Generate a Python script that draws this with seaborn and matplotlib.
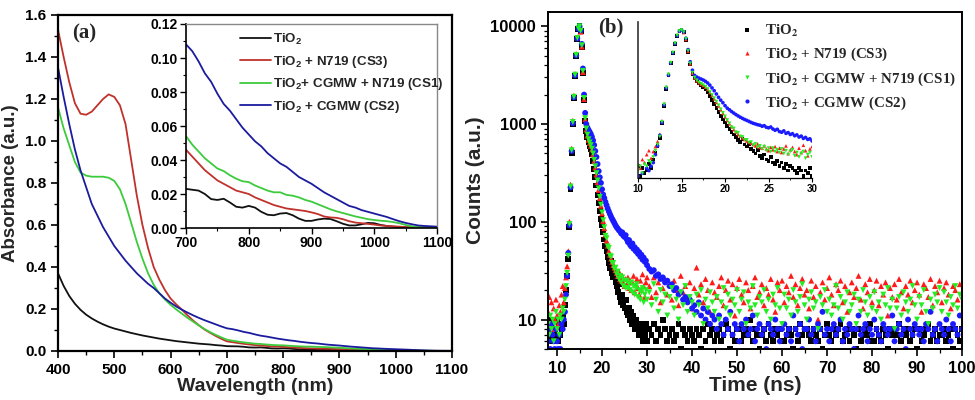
import numpy as np
import pandas as pd
import matplotlib
matplotlib.use('Agg')
import matplotlib.pyplot as plt
import seaborn as sns
from matplotlib.ticker import MultipleLocator, LogLocator, FuncFormatter, NullFormatter, NullLocator
from matplotlib.font_manager import FontProperties

# ---------------- data: (a) UV-vis absorbance, 400-1100 nm every 10 nm ----------------
wavelength = np.arange(400, 1101, 10)

abs_tio2 = [0.370, 0.310, 0.262, 0.225, 0.196, 0.173, 0.155, 0.140, 0.127, 0.116,
            0.107, 0.100, 0.093, 0.086, 0.080, 0.074, 0.069, 0.064, 0.059, 0.055,
            0.051, 0.047, 0.044, 0.041, 0.038, 0.035, 0.033, 0.031, 0.028, 0.026,
            0.023, 0.0225, 0.022, 0.020, 0.017, 0.0165, 0.0172, 0.015, 0.0125, 0.012,
            0.013, 0.012, 0.0095, 0.0078, 0.0075, 0.0085, 0.0088, 0.0075, 0.0055, 0.0042,
            0.0042, 0.005, 0.0055, 0.0053, 0.004, 0.0025, 0.0015, 0.0015, 0.0022, 0.003,
            0.0028, 0.0018, 0.0012, 0.0008, 0.0005, 0.0004, 0.0003, 0.0002, 0.0002, 0.0001,
            0.0001]
abs_cs3 = [1.53, 1.40, 1.28, 1.18, 1.13, 1.125, 1.14, 1.17, 1.20, 1.222,
           1.21, 1.17, 1.08, 0.91, 0.74, 0.60, 0.49, 0.40, 0.34, 0.29,
           0.25, 0.222, 0.197, 0.17, 0.145, 0.123, 0.103, 0.087, 0.072, 0.058,
           0.046, 0.042, 0.038, 0.034, 0.031, 0.028, 0.026, 0.024, 0.022, 0.021,
           0.020, 0.018, 0.0165, 0.015, 0.0135, 0.0125, 0.0115, 0.011, 0.0105, 0.010,
           0.0092, 0.0082, 0.0068, 0.0062, 0.006, 0.0052, 0.004, 0.0032, 0.0028, 0.0024,
           0.002, 0.0015, 0.0012, 0.001, 0.0008, 0.0005, 0.0004, 0.0003, 0.0003, 0.0002,
           0.0002]
abs_cs1 = [1.16, 1.06, 0.98, 0.90, 0.85, 0.835, 0.83, 0.83, 0.83, 0.825,
           0.81, 0.77, 0.70, 0.61, 0.52, 0.44, 0.37, 0.315, 0.275, 0.245,
           0.22, 0.198, 0.178, 0.158, 0.14, 0.122, 0.105, 0.09, 0.077, 0.065,
           0.054, 0.049, 0.045, 0.041, 0.038, 0.035, 0.0335, 0.031, 0.029, 0.0275,
           0.027, 0.025, 0.0235, 0.022, 0.021, 0.021, 0.0195, 0.019, 0.018, 0.0165,
           0.0155, 0.014, 0.0125, 0.011, 0.0098, 0.0088, 0.0078, 0.0068, 0.006, 0.0052,
           0.0047, 0.0043, 0.004, 0.0035, 0.0028, 0.0018, 0.001, 0.0005, 0.0003, 0.0002,
           0.0001]
abs_cs2 = [1.35, 1.21, 1.08, 0.96, 0.86, 0.78, 0.70, 0.645, 0.59, 0.545,
           0.50, 0.465, 0.43, 0.40, 0.37, 0.345, 0.32, 0.30, 0.275, 0.25,
           0.23, 0.212, 0.197, 0.183, 0.17, 0.158, 0.147, 0.137, 0.127, 0.117,
           0.108, 0.104, 0.098, 0.091, 0.086, 0.079, 0.073, 0.069, 0.064, 0.059,
           0.055, 0.051, 0.048, 0.044, 0.041, 0.038, 0.036, 0.033, 0.030, 0.028,
           0.026, 0.0235, 0.021, 0.019, 0.017, 0.015, 0.013, 0.012, 0.0105, 0.0095,
           0.0085, 0.0075, 0.0065, 0.0052, 0.004, 0.003, 0.0022, 0.0015, 0.0012, 0.001,
           0.0008]

# ---------------- data: (b) TRPL decay, counts ----------------
t_rise = np.arange(8, 30.001, 0.25)     # 89 channels
t_tail = np.arange(30.5, 100.001, 0.5)  # 140 channels

cnt_tio2 = [8, 6, 10, 7, 9, 6, 8, 7, 10, 6,
            9, 7, 8, 11, 9, 14, 20, 28, 42, 88,
            215, 510, 1000, 1850, 3100, 5000, 7400, 9400, 10000, 8900,
            6100, 3300, 1750, 1080, 850, 730, 660, 600, 550, 490,
            420, 350, 290, 235, 190, 155, 128, 106, 92, 78,
            66, 56, 50, 44, 38, 34, 40, 30, 27, 31,
            24, 22, 19, 23, 17, 15, 18, 14, 13, 16,
            12, 11, 13, 10, 12, 9, 11, 8, 10, 9,
            8, 7, 9, 8, 6, 8, 7, 9, 6,
            8, 7, 9, 6, 8, 7, 10, 8, 6, 7,
            8, 6, 7, 9, 5, 8, 7, 6, 8, 7,
            6, 8, 7, 5, 8, 6, 9, 7, 8, 6,
            7, 8, 6, 7, 9, 8, 5, 7, 6, 8,
            8, 6, 7, 8, 7, 10, 6, 8, 7, 5,
            7, 8, 6, 9, 7, 6, 8, 7, 8, 6,
            6, 7, 8, 7, 5, 8, 6, 9, 7, 8,
            8, 7, 6, 8, 7, 6, 8, 5, 7, 9,
            7, 6, 8, 7, 8, 9, 6, 7, 8, 6,
            8, 7, 5, 8, 6, 7, 8, 7, 9, 6,
            6, 8, 7, 6, 8, 7, 5, 8, 7, 8,
            7, 9, 6, 8, 7, 8, 6, 7, 8, 5,
            8, 6, 7, 8, 9, 6, 7, 8, 6, 7,
            7, 8, 6, 7, 8, 5, 8, 7, 6, 8]
cnt_cs3 = [12, 17, 9, 15, 8, 13, 10, 16, 11, 9,
           14, 12, 18, 22, 15, 21, 27, 35, 50, 100,
           240, 560, 1080, 1950, 3250, 5200, 7700, 9600, 10000, 8800,
           6200, 3400, 1800, 1120, 880, 760, 690, 640, 600, 550,
           490, 420, 360, 305, 255, 212, 175, 146, 122, 102,
           86, 74, 64, 57, 50, 46, 42, 39, 36, 34,
           32, 30, 28, 31, 26, 25, 28, 24, 22, 26,
           23, 27, 21, 25, 20, 24, 28, 19, 23, 26,
           21, 18, 25, 20, 29, 22, 17, 24, 27,
           22, 17, 27, 19, 24, 15, 21, 26, 18, 23,
           16, 25, 20, 14, 28, 19, 22, 17, 24, 13,
           21, 34, 18, 23, 15, 26, 20, 12, 24, 19,
           17, 22, 27, 14, 20, 25, 16, 23, 11, 21,
           26, 18, 15, 24, 20, 13, 22, 27, 17, 19,
           23, 14, 21, 18, 26, 16, 12, 24, 20, 25,
           15, 22, 19, 28, 17, 23, 14, 21, 26, 18,
           20, 13, 25, 17, 22, 10, 19, 24, 16, 21,
           27, 18, 14, 23, 20, 25, 15, 22, 12, 19,
           24, 17, 21, 28, 16, 13, 23, 19, 26, 15,
           20, 25, 14, 22, 18, 24, 11, 21, 17, 23,
           16, 26, 19, 13, 22, 18, 25, 15, 20, 24,
           18, 12, 23, 21, 17, 26, 14, 22, 19, 25,
           15, 21, 24, 18, 13, 22, 20, 16, 23, 19]
cnt_cs1 = [9, 7, 11, 8, 10, 6, 9, 12, 8, 10,
           7, 11, 10, 13, 12, 16, 22, 30, 45, 95,
           230, 540, 1050, 1900, 3200, 5100, 7600, 9500, 10000, 9000,
           6400, 3500, 1850, 1150, 900, 780, 700, 650, 610, 560,
           500, 430, 370, 315, 265, 220, 180, 150, 125, 104,
           88, 72, 68, 56, 54, 45, 44, 38, 38, 33,
           34, 29, 31, 26, 28, 24, 27, 22, 25, 21,
           25, 21, 23, 20, 24, 19, 22, 18, 21, 23,
           17, 20, 16, 19, 21, 15, 18, 20, 16,
           19, 14, 23, 16, 12, 20, 15, 18, 11, 17,
           21, 13, 16, 10, 19, 14, 22, 12, 17, 15,
           11, 18, 14, 20, 9, 16, 13, 19, 15, 12,
           17, 10, 15, 21, 13, 18, 11, 16, 14, 20,
           12, 16, 19, 9, 15, 13, 22, 14, 11, 17,
           15, 20, 12, 16, 10, 18, 14, 21, 13, 9,
           18, 13, 16, 11, 20, 15, 12, 17, 23, 14,
           10, 16, 19, 13, 15, 8, 17, 14, 20, 12,
           16, 11, 14, 22, 13, 17, 10, 15, 19, 12,
           14, 18, 9, 16, 12, 20, 15, 11, 17, 13,
           19, 12, 15, 10, 18, 14, 21, 13, 16, 8,
           13, 17, 11, 19, 15, 12, 16, 22, 14, 10,
           17, 14, 20, 12, 9, 16, 13, 18, 15, 21,
           12, 19, 15, 11, 17, 14, 22, 13, 18, 16]
cnt_cs2 = [6, 8, 5, 9, 7, 6, 5, 8, 6, 5,
           7, 5, 9, 8, 10, 12, 18, 28, 48, 92,
           225, 530, 1020, 1880, 3150, 5050, 7500, 9400, 10000, 9100,
           6600, 3700, 2000, 1300, 1000, 920, 870, 830, 790, 740,
           680, 610, 530, 460, 390, 330, 285, 250, 215, 190,
           175, 160, 148, 137, 128, 120, 113, 107, 102, 97,
           92, 88, 85, 82, 80, 76, 78, 72, 70, 73,
           66, 62, 65, 58, 56, 60, 53, 55, 50, 52,
           47, 49, 44, 46, 41, 43, 39, 40, 36,
           33, 31, 32, 28, 29, 26, 27, 24, 25, 22,
           23, 20, 21, 18, 19, 16, 17, 15, 16, 13,
           14, 12, 15, 11, 13, 10, 12, 9, 11, 10,
           8, 11, 9, 7, 10, 8, 12, 7, 9, 8,
           6, 9, 8, 10, 7, 8, 11, 6, 8, 9,
           7, 8, 5, 9, 8, 7, 10, 8, 6, 8,
           9, 7, 8, 6, 11, 8, 7, 9, 5, 8,
           8, 10, 7, 8, 6, 9, 8, 12, 7, 8,
           6, 8, 9, 7, 8, 10, 6, 8, 7, 9,
           8, 5, 8, 11, 7, 8, 9, 6, 8, 7,
           10, 8, 7, 6, 9, 8, 7, 8, 11, 6,
           8, 9, 7, 8, 5, 10, 8, 7, 9, 8,
           7, 8, 6, 9, 8, 12, 7, 8, 6, 9,
           8, 7, 10, 8, 6, 9, 8, 7, 11, 8]

samples = ['TiO2', 'TiO2 + N719 (CS3)', 'TiO2 + CGMW + N719 (CS1)', 'TiO2 + CGMW (CS2)']
labels_a = [r'TiO$_2$', r'TiO$_2$ + N719 (CS3)', r'TiO$_2$+ CGMW + N719 (CS1)', r'TiO$_2$ + CGMW (CS2)']
labels_b = [r'TiO$_\mathbf{2}$', r'TiO$_\mathbf{2}$ + N719 (CS3)',
            r'TiO$_\mathbf{2}$ + CGMW + N719 (CS1)', r'TiO$_\mathbf{2}$ + CGMW (CS2)']
line_pal = dict(zip(samples, ['#111111', '#c0312b', '#3ccb3c', '#1b1b9e']))
dot_pal = dict(zip(samples, ['#000000', '#ff1a1a', '#22ee22', '#1a1aff']))
dot_markers = dict(zip(samples, ['s', '^', 'v', 'o']))

# ---------------- style ----------------
sns.set_style('ticks')
plt.rcParams['font.family'] = ['Liberation Sans', 'DejaVu Sans']
plt.rcParams['font.weight'] = 'bold'
plt.rcParams['axes.labelweight'] = 'bold'
plt.rcParams['axes.edgecolor'] = 'black'
plt.rcParams['xtick.color'] = 'black'
plt.rcParams['ytick.color'] = 'black'
plt.rcParams['mathtext.fontset'] = 'custom'
plt.rcParams['mathtext.rm'] = 'Liberation Sans:bold'
plt.rcParams['mathtext.bf'] = 'Liberation Sans:bold'
plt.rcParams['mathtext.it'] = 'Liberation Sans:bold'

df_a = pd.DataFrame({
    'wavelength': np.tile(wavelength, 4),
    'absorbance': np.concatenate([abs_tio2, abs_cs3, abs_cs1, abs_cs2]),
    'sample': np.repeat(samples, len(wavelength)),
})

t_all = np.concatenate([t_rise, t_tail])
draw_order = [0, 1, 3, 2]   # black, red, blue, green (green ends up on top)
all_counts = [cnt_tio2, cnt_cs3, cnt_cs1, cnt_cs2]
df_b = pd.concat([pd.DataFrame({'time': t_all, 'counts': all_counts[i], 'sample': samples[i]})
                  for i in draw_order], ignore_index=True)

fig = plt.figure(figsize=(9.75, 4), dpi=100)

# ---------------- panel (a) ----------------
ax_a = fig.add_axes([0.0595, 0.1225, 0.4041, 0.84])
sns.lineplot(data=df_a, x='wavelength', y='absorbance', hue='sample', hue_order=samples,
             palette=line_pal, linewidth=1.3, errorbar=None, legend=False, ax=ax_a)
ax_a.set_xlim(400, 1100)
ax_a.set_ylim(0, 1.6)
ax_a.xaxis.set_major_locator(MultipleLocator(100))
ax_a.xaxis.set_minor_locator(MultipleLocator(50))
ax_a.yaxis.set_major_locator(MultipleLocator(0.2))
ax_a.yaxis.set_minor_locator(MultipleLocator(0.1))
ax_a.yaxis.set_major_formatter(FuncFormatter(lambda v, p: f'{v:.1f}'))
ax_a.tick_params(which='major', length=5, width=1.2, labelsize=11, direction='out')
ax_a.tick_params(which='minor', length=3, width=1.0, direction='out')
ax_a.set_xlabel('Wavelength (nm)', fontsize=14, labelpad=1)
ax_a.set_ylabel('Absorbance (a.u.)', fontsize=13.5, labelpad=4)
for sp in ax_a.spines.values():
    sp.set_linewidth(1.6)
ax_a.text(0.035, 0.975, '(a)', transform=ax_a.transAxes, ha='left', va='top',
          fontsize=15, fontweight='bold', family='Liberation Serif')

ins_a = fig.add_axes([0.1908, 0.43, 0.2574, 0.51])
sns.lineplot(data=df_a[df_a['wavelength'] >= 700], x='wavelength', y='absorbance', hue='sample',
             hue_order=samples, palette=line_pal, linewidth=1.3, errorbar=None, ax=ins_a)
ins_a.set_xlim(700, 1100)
ins_a.set_ylim(0, 0.12)
ins_a.xaxis.set_major_locator(MultipleLocator(100))
ins_a.xaxis.set_minor_locator(MultipleLocator(50))
ins_a.yaxis.set_major_locator(MultipleLocator(0.02))
ins_a.yaxis.set_minor_locator(MultipleLocator(0.01))
ins_a.yaxis.set_major_formatter(FuncFormatter(lambda v, p: f'{v:.2f}'))
ins_a.tick_params(which='major', length=4, width=1.0, labelsize=10, direction='out', pad=2)
ins_a.tick_params(which='minor', length=2, width=0.8, direction='out')
ins_a.set_xlabel('')
ins_a.set_ylabel('')
ins_a.spines['left'].set_linewidth(1.2)
ins_a.spines['bottom'].set_linewidth(1.2)
for s in ['top', 'right']:
    ins_a.spines[s].set_color('#888888')
    ins_a.spines[s].set_linewidth(1.0)
h_a, _ = ins_a.get_legend_handles_labels()
ins_a.legend(h_a, labels_a, loc='upper left', bbox_to_anchor=(0.185, 1.0), frameon=False,
             prop=FontProperties(family='Liberation Sans', weight='bold', size=9.6),
             handlelength=2.3, handletextpad=0.15, labelspacing=0.5, borderaxespad=0.2)

# ---------------- panel (b) ----------------
ax_b = fig.add_axes([0.5621, 0.1275, 0.4246, 0.8425])
sns.scatterplot(data=df_b, x='time', y='counts', hue='sample', hue_order=samples, palette=dot_pal,
                style='sample', style_order=samples, markers=dot_markers, s=18, linewidth=0, ax=ax_b)
ax_b.set_yscale('log')
ax_b.set_xlim(8, 100)
ax_b.set_ylim(5, 14000)
ax_b.xaxis.set_major_locator(MultipleLocator(10))
ax_b.xaxis.set_minor_locator(MultipleLocator(5))
ax_b.yaxis.set_major_locator(LogLocator(base=10, numticks=10))
ax_b.yaxis.set_minor_locator(LogLocator(base=10, subs=np.arange(2, 10), numticks=10))
ax_b.yaxis.set_major_formatter(FuncFormatter(lambda v, p: f'{v:g}'))
ax_b.yaxis.set_minor_formatter(NullFormatter())
ax_b.tick_params(which='major', length=5, width=1.2, labelsize=12, direction='out')
ax_b.tick_params(which='minor', length=3, width=0.9, direction='out')
ax_b.set_xlabel('Time (ns)', fontsize=15, labelpad=0)
ax_b.set_ylabel('Counts (a.u.)', fontsize=15, labelpad=4)
for sp in ax_b.spines.values():
    sp.set_linewidth(1.4)
ax_b.text(0.12, 0.985, '(b)', transform=ax_b.transAxes, ha='left', va='top',
          fontsize=15, fontweight='bold', family='Liberation Serif')
h_b, _ = ax_b.get_legend_handles_labels()
leg_b = ax_b.legend(h_b, labels_b, loc='upper left', bbox_to_anchor=(0.44, 1.0), frameon=False,
                    prop=FontProperties(family='Liberation Serif', weight='bold', size=10.8,
                                        math_fontfamily='stix'),
                    handlelength=0.8, handletextpad=0.8, labelspacing=0.45, markerscale=0.7,
                    borderaxespad=0.35)
leg_b.set_zorder(10)

ins_b = fig.add_axes([0.6544, 0.555, 0.1785, 0.39])
ins_b.patch.set_visible(False)
sns.scatterplot(data=df_b[df_b['time'] <= 30.2], x='time', y='counts', hue='sample', hue_order=samples,
                palette=dot_pal, style='sample', style_order=samples, markers=dot_markers,
                s=7, linewidth=0, legend=False, ax=ins_b)
ins_b.set_yscale('log')
ins_b.set_xlim(10, 30)
ins_b.set_ylim(5.5, 15000)
ins_b.xaxis.set_major_locator(MultipleLocator(5))
ins_b.xaxis.set_minor_locator(MultipleLocator(2.5))
ins_b.yaxis.set_major_locator(NullLocator())
ins_b.yaxis.set_minor_locator(NullLocator())
ins_b.tick_params(which='major', length=3, width=0.8, labelsize=7, direction='out', pad=1)
ins_b.tick_params(which='minor', length=1.5, width=0.6, direction='out')
ins_b.set_xlabel('')
ins_b.set_ylabel('')
sns.despine(ax=ins_b)
ins_b.spines['left'].set_linewidth(1.2)
ins_b.spines['left'].set_color('#333333')
ins_b.spines['bottom'].set_linewidth(0.9)

fig.savefig('out.png', dpi=100)
